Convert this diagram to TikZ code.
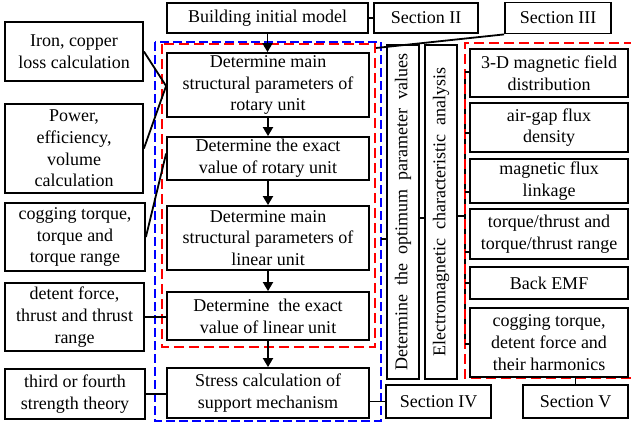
\documentclass[tikz,border=0pt]{standalone}
\usepackage{fontspec}
\setmainfont{Liberation Serif}
\usetikzlibrary{arrows.meta,calc}
\begin{document}
\begin{tikzpicture}[x=1pt,y=-1pt,
  box/.style={draw, line width=1.8pt, align=center, inner sep=0pt, fill=white,
    font=\fontsize{18}{21.7}\selectfont},
  sz/.style 2 args={minimum width=#1pt, minimum height=#2pt},
  conn/.style={line width=1.8pt},
  arr/.style={line width=1.8pt, -{Triangle[length=9pt,width=10pt]}},
  bluedash/.style={draw=blue, line width=1.4pt, dash pattern=on 9pt off 4pt},
  reddash/.style={draw=red, line width=1.4pt, dash pattern=on 10pt off 5pt}]
\useasboundingbox (0,0) rectangle (631,426);
\fill[white] (0,0) rectangle (631,426);
% dashed frames and spine
\draw[bluedash] (155,42) rectangle (381,421);
\coordinate (spT) at (465,72);
\coordinate (spB) at (465,344);
\draw[conn] (spT) -- (spB);
\draw[reddash] (162,44) rectangle (375,347);
\draw[reddash] (634,43) -- (465,43) -- (465,378) -- (634,378);
\coordinate (redc) at (376,48);
\coordinate (bluer) at (381,239);
\coordinate (redb) at (582,378);
% top row
\node[box, sz={201}{30}] (build) at (267.5,18) {Building initial model};
\node[box, sz={104}{30}] (sec2) at (426,18) {Section II};
\node[box, sz={106}{31}] (sec3) at (558,18) {Section III};
% left column
\node[box, sz={138}{59}] (iron) at (74,51.5) {Iron, copper\\loss calculation};
\node[box, sz={138}{89}] (power) at (74,148.5) {Power,\\efficiency,\\volume\\calculation};
\node[box, sz={140}{68}] (cog) at (75,237) {cogging torque,\\torque and\\torque range};
\node[box, sz={139}{68}] (detent) at (74.5,317) {detent force,\\thrust and thrust\\range};
\node[box, sz={140}{50}] (third) at (75,394) {third or fourth\\strength theory};
% main column
\node[box, sz={202}{64}] (b1) at (268,85) {Determine main\\structural parameters of\\rotary unit};
\node[box, sz={202}{43}] (b2) at (268,158.5) {Determine the exact\\value of rotary unit};
\node[box, sz={202}{64}] (b3) at (268,238) {Determine main\\structural parameters of\\linear unit};
\node[box, sz={202}{48}] (b4) at (268,316) {Determine\ \ the exact\\value of linear unit};
\node[box, sz={202}{50}] (b5) at (268,393) {Stress calculation of\\support mechanism};
% vertical boxes
\node[box, sz={334}{32}, rotate=90] (opt) at (403,212) {Determine\ \ the\ \ optimum\ \ parameter\ \ values};
\node[box, sz={334}{32}, rotate=90] (em) at (441,212) {Electromagnetic\ \ characteristic\ \ analysis};
\node[box, sz={105}{33}] (sec4) at (438.5,401.5) {Section IV};
% right column
\node[box, sz={158}{48}] (r1) at (549,73) {3-D magnetic field\\distribution};
\node[box, sz={158}{49}] (r2) at (549,127.5) {air-gap flux\\density};
\node[box, sz={158}{44}] (r3) at (549,181) {magnetic flux\\linkage};
\node[box, sz={158}{50}] (r4) at (549,234) {torque/thrust and\\torque/thrust range};
\node[box, sz={158}{32}] (r5) at (549,283) {Back EMF};
\node[box, sz={158}{69}] (r6) at (549,342.5) {cogging torque,\\detent force and\\their harmonics};
\node[box, sz={105}{33}] (sec5) at (575.5,401.5) {Section V};
% arrows
\draw[arr] (build.south) -- (build.south |- b1.north);
\draw[arr] (b1.south) -- (b2.north);
\draw[arr] (b2.south) -- (b3.north);
\draw[arr] (b3.south) -- (b4.north);
\draw[arr] (b4.south) -- (b5.north);
% connectors
\draw[conn] (build.east) -- (sec2.west);
\draw[conn] (sec3.south west) -- (redc);
\draw[conn] (iron.east) -- ($(b1.west)+(0,1)$);
\draw[conn] (power.east) -- ($(b1.west)+(0,1)$);
\draw[conn] (cog.east) -- ($(b2.west)+(0,-5)$);
\draw[conn] (detent.east) -- (detent.east -| b4.west);
\draw[conn] (third.east) -- (third.east -| b5.west);
\draw[conn] (b5.east |- sec4.west) -- (sec4.west);
\draw[conn] (bluer) -- (bluer -| opt.north);
\coordinate (oe) at (419,218);
\draw[conn] (oe) -- (oe -| em.north);
\coordinate (ee) at (457,216);
\draw[conn] (ee) -- (ee -| spT);
\foreach \y/\n in {72/r1,133/r2,192/r3,252/r4,283/r5,344/r6}{
  \coordinate (t\n) at (465,\y);
  \draw[conn] (t\n) -- (t\n -| \n.west);
}
\draw[conn] (sec5.north |- redb) -- (sec5.north);
\end{tikzpicture}
\end{document}
